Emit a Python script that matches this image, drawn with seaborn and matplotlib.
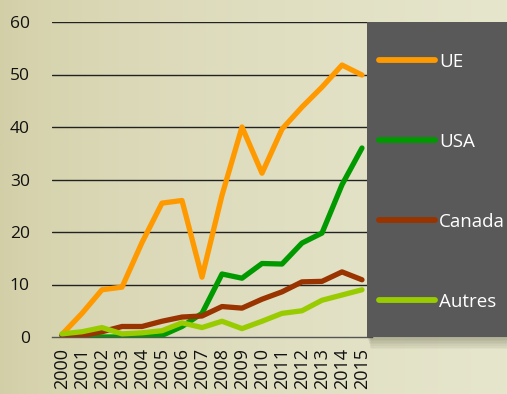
import matplotlib.pyplot as plt
import matplotlib.patches as mpatches
import seaborn as sns
import pandas as pd
import numpy as np

years = [str(y) for y in range(2000, 2016)]
ue = [0.5, 4.5, 9.0, 9.5, 18.0, 25.5, 26.0, 11.4, 27.0, 40.0, 31.2, 39.6, 43.8, 47.6, 51.8, 49.9]
usa = [0.3, 0.0, 0.0, 0.0, 0.0, 0.3, 2.0, 4.5, 12.0, 11.2, 14.0, 13.9, 17.9, 19.8, 29.0, 36.0]
canada = [0.3, 0.3, 1.0, 2.0, 2.0, 3.0, 3.8, 4.0, 5.8, 5.5, 7.2, 8.6, 10.5, 10.6, 12.4, 10.9]
autres = [0.6, 1.0, 1.8, 0.6, 0.8, 1.2, 2.7, 1.8, 3.0, 1.6, 3.0, 4.5, 5.0, 7.0, 8.0, 9.0]

series = ["UE", "USA", "Canada", "Autres"]
colors = ["#FF9900", "#009900", "#993300", "#99CC00"]

df = pd.DataFrame({"year": years, "UE": ue, "USA": usa, "Canada": canada, "Autres": autres})
long = df.melt(id_vars="year", var_name="serie", value_name="val")
long["x"] = long["year"].map({y: i for i, y in enumerate(years)})

sns.set_style("white")
plt.rcParams["font.family"] = ["Open Sans", "DejaVu Sans"]

fig = plt.figure(figsize=(5.07, 3.94), dpi=100)

# beige gradient background
bg = fig.add_axes([0, 0, 1, 1], zorder=-10)
grad = np.linspace(0, 1, 256)
r = 210 + 20 * grad ** 0.6
g = 206 + 24 * grad ** 0.6
b = 166 + 39 * grad ** 0.6
img = np.dstack([np.tile(c, (10, 1)) for c in (r, g, b)]) / 255.0
bg.imshow(img, aspect="auto", extent=[0, 1, 0, 1])
bg.set_axis_off()

ax = fig.add_axes([52 / 507, 57 / 394, 320 / 507, 315 / 394])
ax.patch.set_alpha(0)

for y in range(10, 70, 10):
    ax.axhline(y, color="#222222", lw=1.0, zorder=1)

sns.lineplot(data=long, x="x", y="val", hue="serie", hue_order=series,
             palette=colors, linewidth=3.8, ax=ax, legend=False,
             solid_capstyle="round", solid_joinstyle="round", zorder=3)

ax.set_xlim(-0.5, 15.5)
ax.set_ylim(0, 60)
ax.set_xticks(range(len(years)))
ax.set_xticklabels(years, rotation=90, fontsize=13, color="#111111")
ax.set_xticks(np.arange(-0.5, 16, 1), minor=True)
ax.tick_params(axis="x", which="major", length=0, pad=8)
ax.tick_params(axis="x", which="minor", length=6, color="#555555", width=1)
ax.set_yticks(range(0, 70, 10))
ax.set_yticklabels([str(v) for v in range(0, 70, 10)], fontsize=12.5, color="#111111")
ax.tick_params(axis="y", length=0, pad=16)
ax.set_xlabel("")
ax.set_ylabel("")
for s in ["top", "right", "left"]:
    ax.spines[s].set_visible(False)
ax.spines["bottom"].set_color("#555555")
ax.spines["bottom"].set_linewidth(1.0)

# dark legend panel with a soft shadow
for k in range(8):
    off = 1 + k * 1.6
    shadow = mpatches.Rectangle(((367 + off * 0.3) / 507, (57 - off) / 394), 142 / 507, 315 / 394,
                                transform=fig.transFigure, color="#3a3a20",
                                alpha=0.045, zorder=5, lw=0)
    fig.add_artist(shadow)
panel = mpatches.Rectangle((367 / 507, 57 / 394), 142 / 507, 315 / 394,
                           transform=fig.transFigure, color="#595959", zorder=6, lw=0)
fig.add_artist(panel)

handles = [plt.Line2D([], [], color=c, lw=4.2, solid_capstyle="round") for c in colors]
leg = fig.legend(handles, series, loc="upper left", bbox_to_anchor=(379 / 507, 1 - 53 / 394),
                 frameon=False, fontsize=13.5, labelcolor="white", handlelength=3.0,
                 handletextpad=0.2, labelspacing=3.3, borderaxespad=0, borderpad=0)
leg.set_zorder(7)

fig.savefig("out.png", dpi=100)
